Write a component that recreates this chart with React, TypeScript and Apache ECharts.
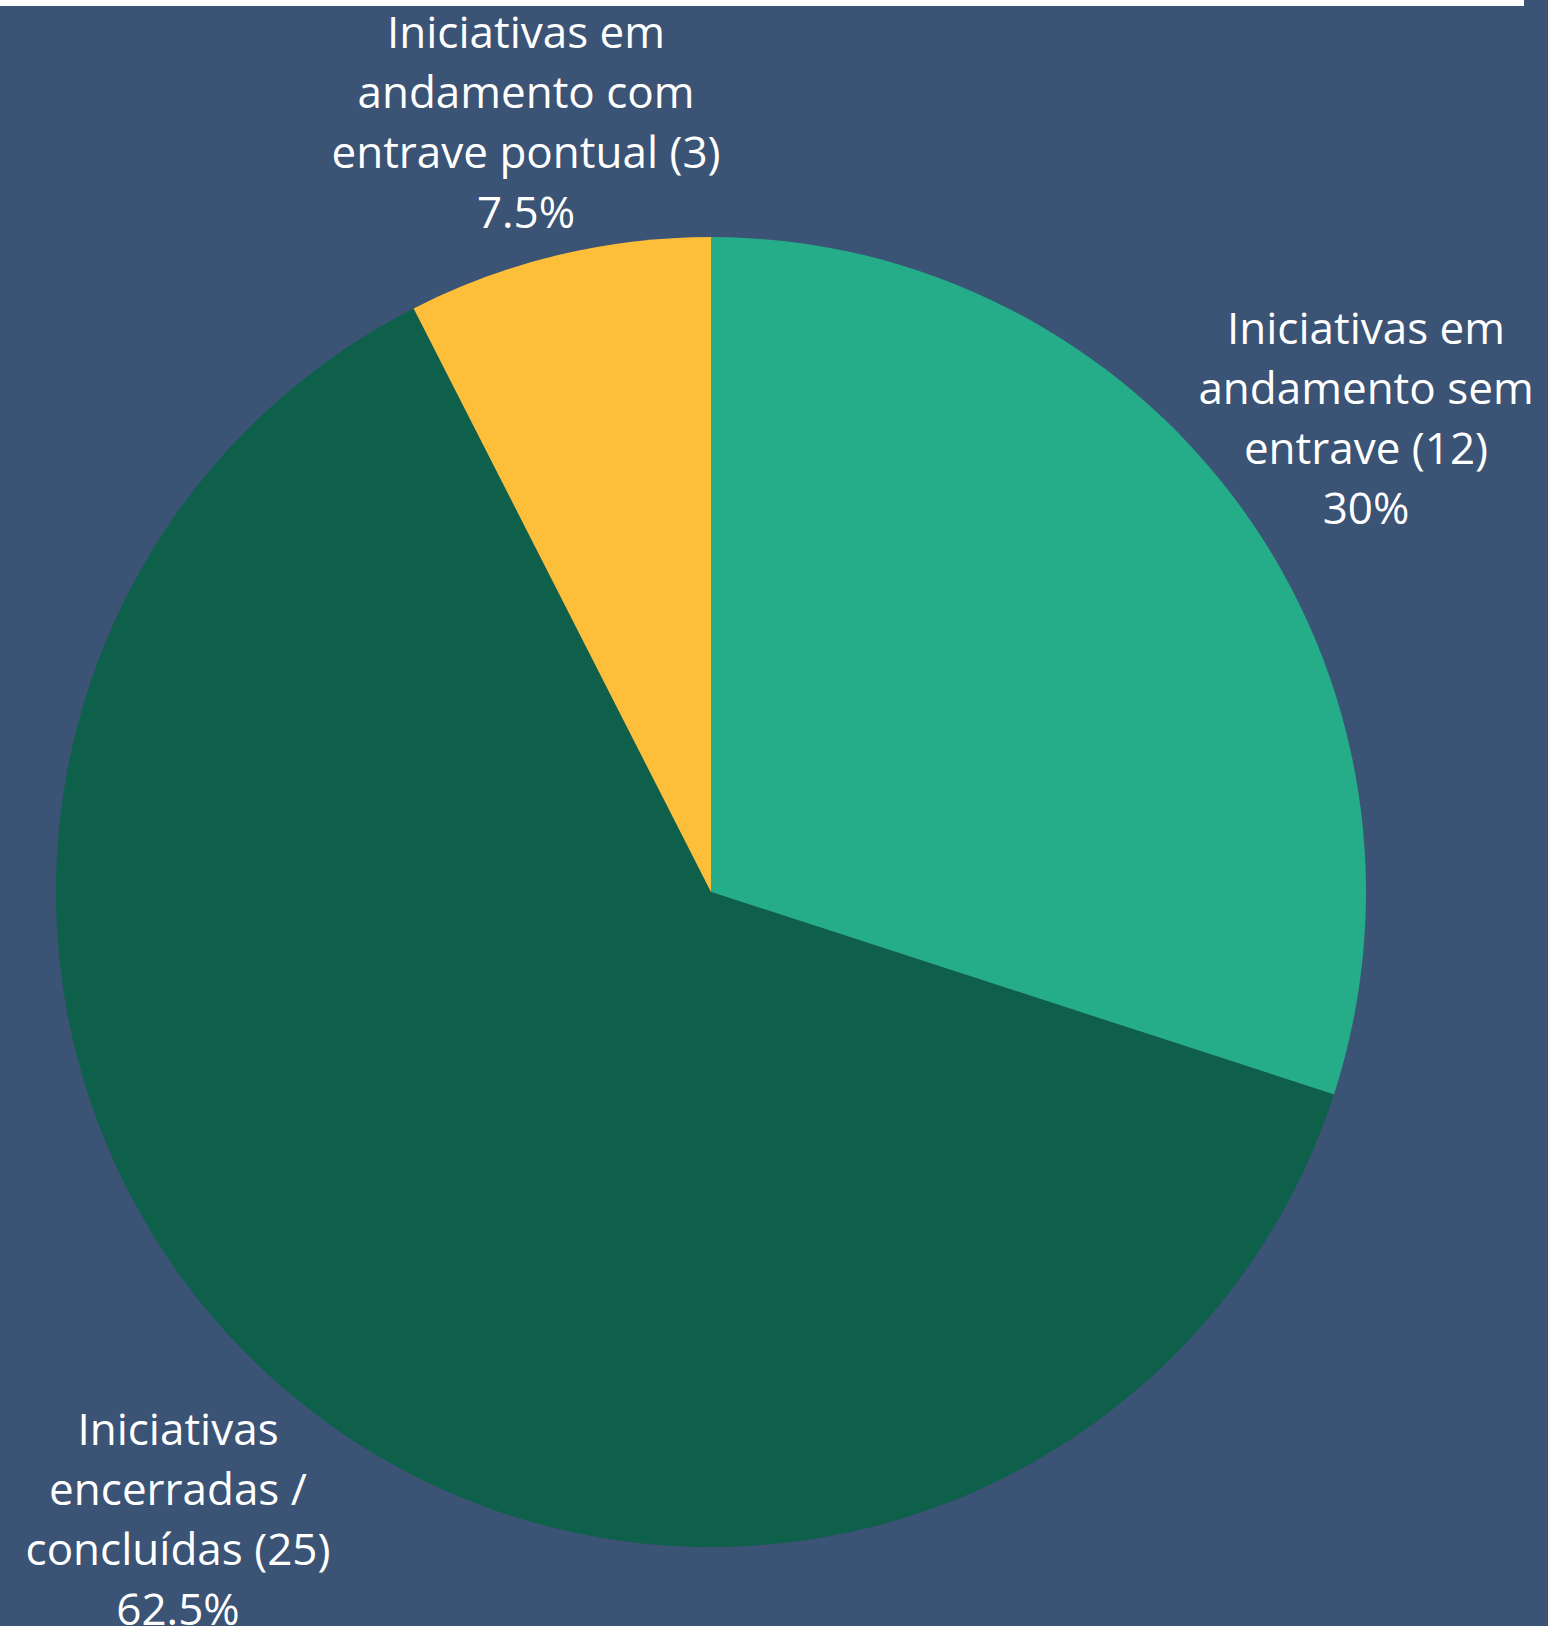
import React, { useEffect, useRef } from "react";
import * as echarts from "echarts";

const categories: string[][] = [
  ["Iniciativas em", "andamento sem", "entrave (12)"],
  ["Iniciativas", "encerradas /", "concluídas (25)"],
  ["Iniciativas em", "andamento com", "entrave pontual (3)"],
];
const values: number[] = [12, 25, 3];
const colors: string[] = ["#25ad89", "#0e604b", "#fdbf39"];
// label block centres (layout only)
const labelPos: [number, number][] = [
  [1366, 417],
  [178, 1518],
  [526, 121],
];

export default function App() {
  const ref = useRef<HTMLDivElement>(null);
  useEffect(() => {
    if (!ref.current) return;
    const chart = echarts.init(ref.current, null, { renderer: "svg" });
    chart.setOption({
      animation: false,
      backgroundColor: "#3b5374",
      graphic: [
        {
          type: "rect",
          left: 0,
          top: 0,
          shape: { x: 0, y: 0, width: 1524, height: 6 },
          style: { fill: "#ffffff" },
          z: 10,
        },
      ],
      series: [
        {
          type: "pie",
          center: [711, 892],
          radius: [0, 655],
          startAngle: 90,
          clockwise: true,
          avoidLabelOverlap: false,
          data: values.map((v, i) => ({
            value: v,
            name: categories[i].join(" "),
            itemStyle: { color: colors[i] },
          })),
          label: {
            show: true,
            position: "outside",
            color: "#ffffff",
            fontFamily: "Open Sans",
            fontSize: 44,
            lineHeight: 60,
            align: "center",
            formatter: (p: any) =>
              categories[p.dataIndex].join("\n") + "\n" + p.percent + "%",
          },
          labelLine: { show: false },
          labelLayout: (p: any) => ({
            x: labelPos[p.dataIndex][0],
            y: labelPos[p.dataIndex][1],
            align: "center",
            verticalAlign: "middle",
          }),
        },
      ],
    });
    return () => chart.dispose();
  }, []);
  return (
    <div
      ref={ref}
      style={{ position: "fixed", left: 0, top: 0, width: 1548, height: 1626 }}
    />
  );
}
